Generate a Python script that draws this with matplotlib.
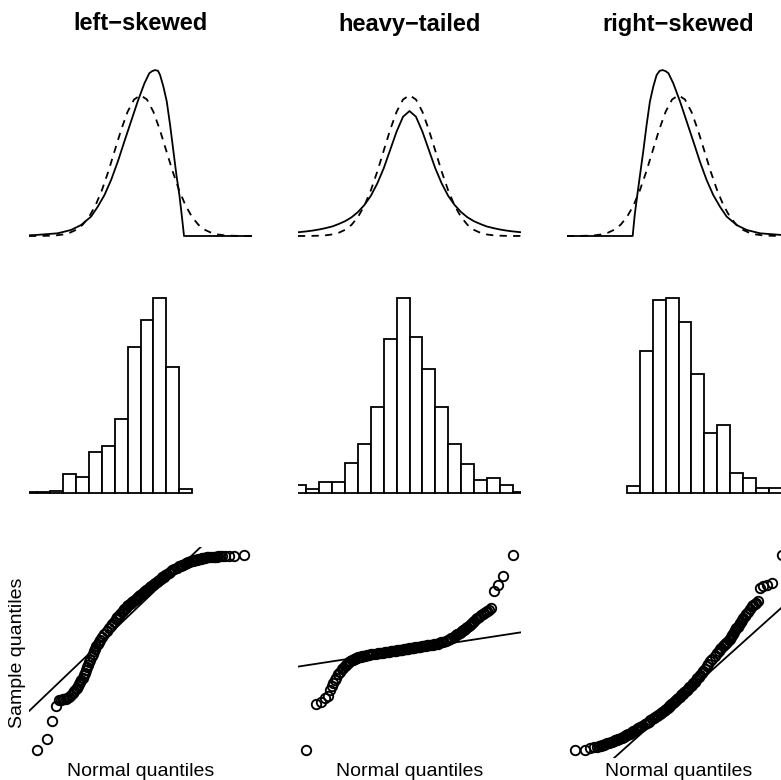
import matplotlib
matplotlib.use("Agg")
import matplotlib.pyplot as plt
from statistics import NormalDist

plt.rcParams['font.family'] = ['Liberation Sans', 'DejaVu Sans']

titles = ["left\u2212skewed", "heavy\u2212tailed", "right\u2212skewed"]

# row 1: densities (solid = distribution, dashed = normal)
norm_x = [-4.33, -4, -3.75, -3.5, -3.25, -3, -2.75, -2.5, -2.25, -2, -1.75, -1.5, -1.25, -1,
          -0.75, -0.5, -0.25, 0, 0.25, 0.5, 0.75, 1, 1.25, 1.5, 1.75, 2, 2.25, 2.5, 2.75, 3,
          3.25, 3.5, 3.75, 4, 4.33]
norm_y = [0.0000, 0.0001, 0.0004, 0.0009, 0.0020, 0.0044, 0.0091, 0.0175, 0.0317, 0.0540,
          0.0863, 0.1295, 0.1826, 0.2420, 0.3011, 0.3521, 0.3867, 0.3989, 0.3867, 0.3521,
          0.3011, 0.2420, 0.1826, 0.1295, 0.0863, 0.0540, 0.0317, 0.0175, 0.0091, 0.0044,
          0.0020, 0.0009, 0.0004, 0.0001, 0.0000]
heavy_y = [0.0106, 0.0131, 0.0155, 0.0186, 0.0225, 0.027, 0.034, 0.042, 0.053, 0.068,
           0.088, 0.114, 0.149, 0.192, 0.244, 0.296, 0.338, 0.354, 0.338, 0.296,
           0.244, 0.192, 0.149, 0.114, 0.088, 0.068, 0.053, 0.042, 0.034, 0.027,
           0.0225, 0.0186, 0.0155, 0.0131, 0.0106]
left_x = [-4.33, -4.04, -3.22, -2.70, -2.31, -1.92, -1.66, -1.40, -1.14, -0.88, -0.63, -0.37,
          -0.11, 0.15, 0.34, 0.45, 0.563, 0.68, 0.76, 0.89, 1.02, 1.15, 1.28, 1.40, 1.51,
          1.60, 1.69, 4.33]
left_y = [0.002, 0.003, 0.0076, 0.017, 0.031, 0.055, 0.083, 0.116, 0.159, 0.211, 0.267, 0.324,
          0.381, 0.432, 0.461, 0.467, 0.470, 0.468, 0.456, 0.423, 0.381, 0.314, 0.239, 0.17,
          0.116, 0.06, 0, 0]
right_x = [-4.33, -1.78, -1.70, -1.60, -1.50, -1.37, -1.24, -1.11, -0.98, -0.85, -0.73, -0.615,
           -0.5, -0.39, -0.2, 0.06, 0.32, 0.58, 0.83, 1.09, 1.35, 1.61, 1.87, 2.26, 2.65,
           3.17, 3.98, 4.33]
right_y = [0, 0, 0.06, 0.116, 0.17, 0.239, 0.314, 0.381, 0.423, 0.456, 0.468, 0.470,
           0.467, 0.461, 0.432, 0.381, 0.324, 0.267, 0.211, 0.159, 0.116, 0.083, 0.055, 0.031,
           0.017, 0.0076, 0.003, 0.002]

# row 2: histograms
left_breaks = [-4.5, -4.0, -3.5, -3.0, -2.5, -2.0, -1.5, -1.0, -0.5, 0.0, 0.5, 1.0, 1.5, 2.0]
left_counts = [1, 1, 2, 22, 19, 48, 56, 88, 173, 205, 231, 149, 4]
heavy_breaks = [-4.5, -4.0, -3.5, -3.0, -2.5, -2.0, -1.5, -1.0, -0.5, 0.0, 0.5, 1.0, 1.5,
                2.0, 2.5, 3.0, 3.5, 4.0, 4.5]
heavy_counts = [7, 3, 9, 9, 26, 43, 75, 134, 170, 136, 108, 75, 43, 25, 11, 13, 7, 1]
right_breaks = [-2.0, -1.5, -1.0, -0.5, 0.0, 0.5, 1.0, 1.5, 2.0, 2.5, 3.0, 3.5, 4.0]
right_counts = [7, 141, 192, 194, 170, 118, 60, 68, 20, 15, 5, 5]

# row 3: normal QQ plots, sample quantiles read at selected ranks of n = 1000
n_obs = 1000
low_ranks = [1, 2, 3, 4, 5, 6, 7, 8, 9, 10, 12, 14, 16, 18, 20, 22, 24, 26, 28, 30,
             33, 36, 39, 42, 45, 48, 51, 55, 60, 65, 70, 75, 80, 86, 92, 100,
             110, 125, 140, 155, 170, 185, 200, 215, 230, 245, 260, 275, 290, 305, 320,
             335, 350, 365, 380, 395, 410, 425, 440, 455, 470, 485, 500]
qq_ranks = low_ranks + [n_obs + 1 - r for r in reversed(low_ranks[:-1])]

qq_left = [-4.30, -3.95, -3.38, -2.90, -2.71, -2.71, -2.68, -2.68, -2.68, -2.64,
           -2.61, -2.55, -2.48, -2.42, -2.36, -2.31, -2.26, -2.20, -2.14, -2.07,
           -1.99, -1.92, -1.85, -1.76, -1.66, -1.58, -1.51, -1.42, -1.31, -1.23, -1.15, -1.07,
           -0.99, -0.93, -0.87, -0.80,
           -0.71, -0.60, -0.51, -0.42, -0.35, -0.28, -0.21, -0.14, -0.08, -0.03, 0.03, 0.08,
           0.13, 0.18, 0.22, 0.27, 0.32, 0.35, 0.38, 0.42, 0.45, 0.48, 0.51, 0.54, 0.57, 0.60,
           0.64,
           0.67, 0.70, 0.73, 0.76, 0.80, 0.83, 0.86, 0.89, 0.92, 0.95, 0.99, 1.02, 1.05, 1.08,
           1.11, 1.15, 1.19, 1.22, 1.26, 1.30, 1.33, 1.37, 1.42, 1.46, 1.50, 1.54,
           1.56, 1.58, 1.60, 1.62, 1.64, 1.65, 1.67, 1.69, 1.70, 1.71, 1.72, 1.73, 1.74, 1.75,
           1.76, 1.77, 1.78, 1.79, 1.80, 1.80, 1.81, 1.81, 1.83, 1.83, 1.85, 1.85,
           1.85, 1.85, 1.85, 1.86, 1.86, 1.86, 1.88, 1.88, 1.88, 1.91]
qq_heavy = [-25.3, -13.6, -13.3, -12.3, -11.6, -10.2, -9.2, -8.4, -7.7, -7.1,
            -6.3, -5.6, -5.0, -4.6, -4.2, -3.95, -3.65, -3.4, -3.2, -3.0,
            -2.8, -2.65, -2.5, -2.35, -2.2, -2.1, -2.03, -1.95, -1.85, -1.77, -1.7, -1.64,
            -1.58, -1.52, -1.46, -1.39,
            -1.30, -1.22, -1.13, -1.04, -0.96, -0.89, -0.82, -0.76, -0.68, -0.62, -0.56, -0.50,
            -0.45, -0.40, -0.35, -0.30, -0.25, -0.19, -0.13, -0.09, -0.05, 0.0, 0.05, 0.10,
            0.15, 0.20, 0.25,
            0.30, 0.35, 0.40, 0.45, 0.50, 0.56, 0.60, 0.63, 0.68, 0.73, 0.80, 0.86, 0.91, 0.96,
            1.01, 1.06, 1.12, 1.18, 1.26, 1.35, 1.44, 1.57, 1.72, 1.89, 2.10, 2.37,
            2.58, 2.78, 2.96, 3.16, 3.35, 3.54, 3.72, 3.91, 4.15, 4.37, 4.54, 4.72, 4.92, 5.13,
            5.38, 5.66, 5.93, 6.15, 6.36, 6.60, 6.90, 7.20, 7.50, 7.83, 8.21, 8.59,
            8.96, 9.14, 9.34, 9.60, 9.9, 10.3, 14.5, 16.2, 18.3, 23.7]
qq_right = [-1.91, -1.89, -1.83, -1.81, -1.80, -1.78, -1.77, -1.75, -1.73, -1.72,
            -1.69, -1.67, -1.66, -1.64, -1.62, -1.60, -1.59, -1.58, -1.56, -1.54,
            -1.52, -1.51, -1.50, -1.48, -1.46, -1.44, -1.43, -1.41, -1.38, -1.36, -1.34, -1.31,
            -1.29, -1.27, -1.25, -1.21,
            -1.18, -1.13, -1.08, -1.04, -1.00, -0.96, -0.93, -0.90, -0.87, -0.83, -0.80, -0.77,
            -0.73, -0.70, -0.67, -0.64, -0.60, -0.56, -0.52, -0.49, -0.45, -0.41, -0.37, -0.34,
            -0.30, -0.27, -0.24,
            -0.21, -0.17, -0.14, -0.11, -0.07, -0.03, 0.01, 0.05, 0.09, 0.13, 0.17, 0.22, 0.27,
            0.32, 0.37, 0.43, 0.49, 0.55, 0.62, 0.68, 0.75, 0.83, 0.91, 0.99, 1.08, 1.18,
            1.24, 1.30, 1.35, 1.40, 1.44, 1.47, 1.50, 1.53, 1.59, 1.64, 1.69, 1.74, 1.79, 1.85,
            1.91, 1.96, 2.02, 2.07, 2.12, 2.17, 2.23, 2.29, 2.36, 2.42, 2.49, 2.58,
            2.68, 2.71, 2.74, 2.77, 2.84, 3.25, 3.31, 3.34, 3.39, 4.30]
# qq reference lines: (intercept, slope)
qq_lines = [(0.33, 0.953), (-0.04, 1.21), (-0.32, 0.895)]

dens = [(left_x, left_y), (norm_x, heavy_y), (right_x, right_y)]
hists = [(left_breaks, left_counts), (heavy_breaks, heavy_counts), (right_breaks, right_counts)]
qqs = [qq_left, qq_heavy, qq_right]

W, H = 781, 780
fig = plt.figure(figsize=(W / 100, H / 100), dpi=100)
col_left = [29, 298, 567]
row_top = [27, 287, 547]
pw, ph = 223, 211


def make_ax(c, r):
    ax = fig.add_axes([col_left[c] / W, 1 - (row_top[r] + ph) / H, pw / W, ph / H])
    ax.set_axis_off()
    return ax


theo = [NormalDist().inv_cdf((r - 0.5) / n_obs) for r in qq_ranks]

for c in range(3):
    # densities
    ax = make_ax(c, 0)
    dx, dy = dens[c]
    ax.plot(dx, dy, color='black', lw=1.3, solid_joinstyle='round')
    ax.plot(norm_x, norm_y, color='black', lw=1.3, dashes=(4, 3.5))
    ax.set_xlim(-4.33, 4.33)
    ax.set_ylim(-2 / 353, 209 / 353)

    # histograms
    ax = make_ax(c, 1)
    br, cnt = hists[c]
    ax.bar(br[:-1], cnt, width=[b - a for a, b in zip(br[:-1], br[1:])], align='edge',
           color='white', edgecolor='black', linewidth=1.3)
    ax.set_xlim(-4.33, 4.33)
    m = max(cnt)
    ax.set_ylim(-0.027 * m, 1.058 * m)

    # normal QQ plots
    ax = make_ax(c, 2)
    ys = qqs[c]
    ax.plot(theo, ys, 'o', ms=6.8, mfc='none', mec='black', mew=1.35, clip_on=False)
    b, s = qq_lines[c]
    ax.axline((0, b), slope=s, color='black', lw=1.3)
    xr = max(theo) - min(theo)
    ax.set_xlim(min(theo) - 0.04 * xr, max(theo) + 0.04 * xr)
    yr = max(ys) - min(ys)
    ax.set_ylim(min(ys) - 0.04 * yr, max(ys) + 0.04 * yr)

    cx = (col_left[c] + pw / 2) / W
    fig.text(cx, 1 - 24 / H, titles[c], ha='center', va='center', fontsize=17, fontweight='bold')
    fig.text(cx, 1 - 776 / H, "Normal quantiles", ha='center', va='baseline', fontsize=14)

fig.text(18 / W, 1 - 653 / H, "Sample quantiles", rotation=90, ha='center', va='center',
         fontsize=14)

fig.savefig("out.png", dpi=100)
